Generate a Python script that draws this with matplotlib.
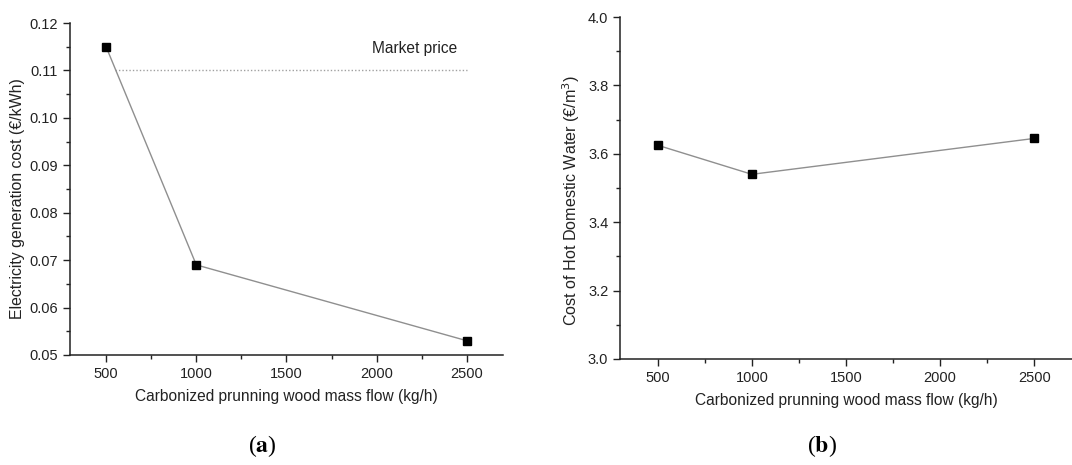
import matplotlib
matplotlib.use("Agg")
import matplotlib.pyplot as plt
from matplotlib.ticker import MultipleLocator, FormatStrFormatter

# Mass flow of carbonized pruning wood (kg/h)
mass_flow = [500, 1000, 2500]

# (a) electricity generation cost (EUR/kWh)
elec_cost = [0.115, 0.069, 0.053]
market_price = 0.110
market_span = [550, 2500]

# (b) cost of hot domestic water (EUR/m3)
water_cost = [3.625, 3.540, 3.645]

plt.rcParams["font.family"] = ["Liberation Sans", "DejaVu Sans"]
plt.rcParams["text.color"] = "#222222"
plt.rcParams["axes.labelcolor"] = "#222222"
plt.rcParams["xtick.color"] = "#222222"
plt.rcParams["ytick.color"] = "#222222"


def style_axes(ax):
    ax.spines["top"].set_visible(False)
    ax.spines["right"].set_visible(False)
    for s in ("left", "bottom"):
        ax.spines[s].set_linewidth(1.1)
        ax.spines[s].set_color("#222222")
    ax.set_xlim(300, 2700)
    ax.xaxis.set_major_locator(MultipleLocator(500))
    ax.xaxis.set_minor_locator(MultipleLocator(250))
    ax.tick_params(which="major", length=5, width=1.0, labelsize=10.5, direction="out")
    ax.tick_params(which="minor", length=3, width=1.0, direction="out")
    ax.set_xlabel("Carbonized prunning wood mass flow (kg/h)", fontsize=11.2, labelpad=6)


fig = plt.figure(figsize=(10.72, 4.65), dpi=100)

ax1 = fig.add_axes([0.0653, 0.2366, 0.4039, 0.7139])
style_axes(ax1)
ax1.plot(mass_flow, elec_cost, color="#8f8f8f", lw=1.0, marker="s",
         markersize=5.5, markerfacecolor="black", markeredgecolor="black", zorder=3)
ax1.plot(market_span, [market_price, market_price], color="#a0a0a0",
         lw=1.0, linestyle=(0, (1, 1.5)))
ax1.text(2213, 0.1147, "Market price", fontsize=11.2, ha="center", va="center")
ax1.set_ylim(0.05, 0.12)
ax1.yaxis.set_major_locator(MultipleLocator(0.01))
ax1.yaxis.set_minor_locator(MultipleLocator(0.005))
ax1.yaxis.set_major_formatter(FormatStrFormatter("%.2f"))
ax1.set_ylabel("Electricity generation cost (€/kWh)", fontsize=11.4)
ax1.yaxis.set_label_coords(-0.104, 0.47)

ax2 = fig.add_axes([0.5784, 0.228, 0.4216, 0.7354])
style_axes(ax2)
ax2.plot(mass_flow, water_cost, color="#8f8f8f", lw=1.0, marker="s",
         markersize=5.5, markerfacecolor="black", markeredgecolor="black", zorder=3)
ax2.set_ylim(3.0, 4.0)
ax2.yaxis.set_major_locator(MultipleLocator(0.2))
ax2.yaxis.set_minor_locator(MultipleLocator(0.1))
ax2.yaxis.set_major_formatter(FormatStrFormatter("%.1f"))
ax2.set_ylabel("Cost of Hot Domestic Water (€/m$^3$)", fontsize=11.6)
ax2.yaxis.set_label_coords(-0.085, 0.462)

# panel captions
for xpos, letter in [(262 / 1072, "a"), (822 / 1072, "b")]:
    fig.text(xpos, 1 - 446 / 465, "(" + r"$\mathbf{" + letter + "}$" + ")",
             fontsize=17, ha="center", va="center", family="Liberation Serif",
             math_fontfamily="stix", color="black")

fig.savefig("out.png", dpi=100)
